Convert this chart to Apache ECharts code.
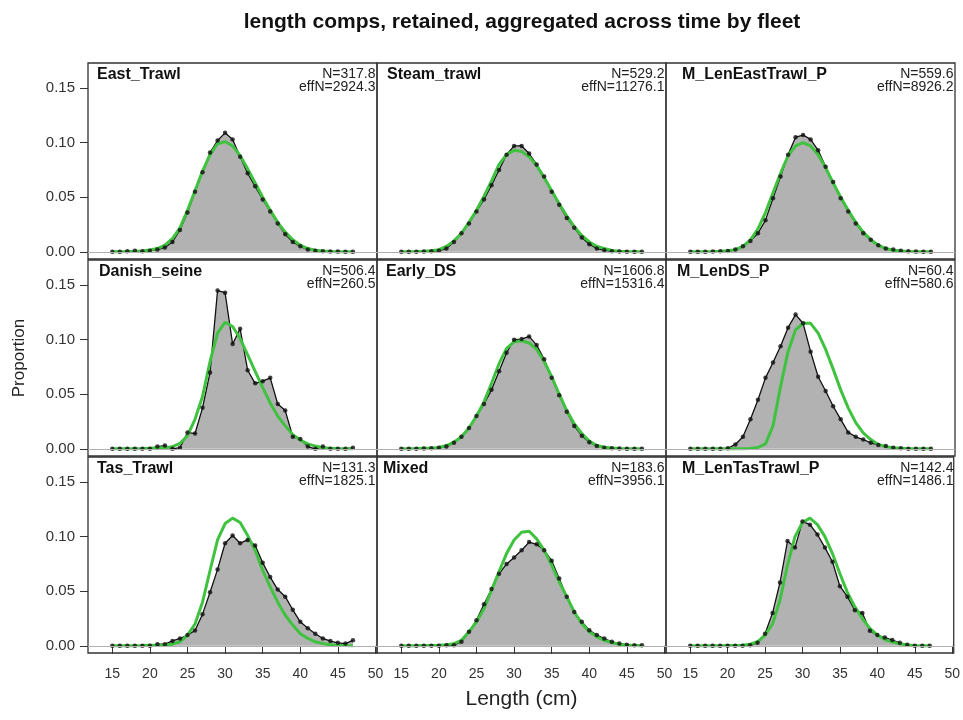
<!DOCTYPE html>
<html>
<head>
<meta charset="utf-8">
<script src="https://cdn.jsdelivr.net/npm/echarts@6/dist/echarts.min.js"></script>
<style>
  html, body { margin: 0; padding: 0; background: #fff; }
  #chart { width: 963px; height: 720px; }
</style>
</head>
<body>
<div id="chart"></div>
<script>
// Length bins (cm)
const lengthBins = [15, 16, 17, 18, 19, 20, 21, 22, 23, 24, 25, 26, 27, 28, 29, 30, 31,
  32, 33, 34, 35, 36, 37, 38, 39, 40, 41, 42, 43, 44, 45, 46, 47];

const xTickValues = [15, 20, 25, 30, 35, 40, 45, 50];
const yTickValues = [0, 0.05, 0.10, 0.15];

const fleetNames = ['East_Trawl', 'Steam_trawl', 'M_LenEastTrawl_P',
  'Danish_seine', 'Early_DS', 'M_LenDS_P',
  'Tas_Trawl', 'Mixed', 'M_LenTasTrawl_P'];
const sampleN = ['317.8', '529.2', '559.6', '506.4', '1606.8', '60.4', '131.3', '183.6', '142.4'];
const effN = ['2924.3', '11276.1', '8926.2', '260.5', '15316.4', '580.6', '1825.1', '3956.1', '1486.1'];

// Observed proportions at length
const obsEastTrawl = [0, 0, 0.0005, 0.001, 0.0005, 0.001, 0.002, 0.004, 0.009, 0.020, 0.036, 0.055, 0.073,
  0.091, 0.102, 0.109, 0.103, 0.087, 0.072, 0.060, 0.048, 0.037, 0.026, 0.016, 0.009, 0.005, 0.002,
  0.001, 0.0005, 0.0003, 0.0002, 0.0001, 0.0001];
const obsSteamTrawl = [0, 0, 0, 0.0002, 0.0005, 0.001, 0.003, 0.009, 0.017, 0.026, 0.037, 0.048, 0.061,
  0.075, 0.089, 0.097, 0.097, 0.090, 0.080, 0.069, 0.055, 0.043, 0.031, 0.022, 0.013, 0.007, 0.003,
  0.0015, 0.0005, 0.0003, 0.0001, 0, 0];
const obsMLenEastTrawlP = [0, 0, 0, 0.0002, 0.0004, 0.0007, 0.002, 0.005, 0.010, 0.017, 0.029, 0.049, 0.069,
  0.089, 0.105, 0.107, 0.103, 0.093, 0.078, 0.064, 0.049, 0.037, 0.026, 0.017, 0.011, 0.006, 0.003,
  0.002, 0.001, 0.0005, 0.0002, 0.0001, 0];
const obsDanishSeine = [0, 0, 0, 0, 0, 0, 0.002, 0.003, 0, 0.001, 0.015, 0.014, 0.0375,
  0.070, 0.145, 0.143, 0.096, 0.110, 0.072, 0.060, 0.062, 0.065, 0.041, 0.035, 0.011, 0.009, 0.002,
  0, 0.002, 0, 0, 0, 0.001];
const obsEarlyDS = [0, 0, 0, 0.0002, 0.0005, 0.001, 0.002, 0.0055, 0.011, 0.019, 0.030, 0.041, 0.054,
  0.071, 0.088, 0.100, 0.1005, 0.103, 0.095, 0.082, 0.065, 0.049, 0.034, 0.021, 0.012, 0.006, 0.0025,
  0.001, 0.0005, 0.0002, 0.0001, 0, 0];
const obsMLenDSP = [0, 0, 0, 0, 0, 0.0005, 0.004, 0.011, 0.027, 0.045, 0.065, 0.079, 0.094,
  0.111, 0.123, 0.115, 0.089, 0.066, 0.053, 0.039, 0.027, 0.015, 0.011, 0.0085, 0.0055, 0.0035, 0.0025,
  0.001, 0.0005, 0, 0, 0, 0];
const obsTasTrawl = [0, 0, 0, 0, 0, 0, 0.0015, 0.0015, 0.0045, 0.0067, 0.0098, 0.014, 0.029,
  0.049, 0.070, 0.094, 0.101, 0.094, 0.097, 0.092, 0.076, 0.063, 0.0515, 0.045, 0.033, 0.022, 0.016,
  0.011, 0.0067, 0.0043, 0.0027, 0.002, 0.005];
const obsMixed = [0, 0, 0, 0, 0, 0, 0.0005, 0.0006, 0.0037, 0.0128, 0.0235, 0.038, 0.052,
  0.066, 0.075, 0.081, 0.0875, 0.095, 0.093, 0.0875, 0.078, 0.0616, 0.045, 0.031, 0.022, 0.0143, 0.0098,
  0.0067, 0.0037, 0.002, 0.001, 0.0005, 0.0005];
const obsMLenTasTrawlP = [0, 0, 0, 0, 0, 0, 0, 0, 0.0005, 0.0027, 0.011, 0.030, 0.058,
  0.096, 0.090, 0.114, 0.111, 0.102, 0.090, 0.077, 0.0546, 0.045, 0.0326, 0.030, 0.0137, 0.0098, 0.0076,
  0.0052, 0.0027, 0.001, 0, 0, 0];

// Expected proportions at length
const expEastTrawl = [0, 0.0001, 0.0002, 0.0004, 0.0008, 0.0016, 0.003, 0.006, 0.012, 0.022, 0.038, 0.056, 0.074,
  0.089, 0.099, 0.101, 0.097, 0.088, 0.076, 0.063, 0.050, 0.038, 0.027, 0.018, 0.011, 0.006, 0.003,
  0.0015, 0.0007, 0.0003, 0.0001, 0.0001, 0];
const expSteamTrawl = [0, 0.0001, 0.0002, 0.0005, 0.001, 0.002, 0.005, 0.010, 0.017, 0.027, 0.038, 0.051, 0.065,
  0.080, 0.089, 0.093, 0.092, 0.087, 0.079, 0.068, 0.056, 0.044, 0.033, 0.023, 0.015, 0.009, 0.005,
  0.003, 0.0013, 0.0006, 0.0003, 0.0001, 0];
const expMLenEastTrawlP = [0, 0, 0.0001, 0.0002, 0.0005, 0.001, 0.002, 0.005, 0.011, 0.021, 0.036, 0.054, 0.072,
  0.088, 0.097, 0.100, 0.097, 0.089, 0.077, 0.063, 0.050, 0.038, 0.027, 0.018, 0.011, 0.006, 0.003,
  0.0015, 0.0007, 0.0003, 0.0001, 0.0001, 0];
const expDanishSeine = [0, 0, 0, 0.0001, 0.0002, 0.0005, 0.001, 0.001, 0.002, 0.005, 0.012, 0.027, 0.048,
  0.080, 0.106, 0.116, 0.112, 0.101, 0.086, 0.071, 0.056, 0.042, 0.030, 0.021, 0.013, 0.008, 0.0045,
  0.0025, 0.001, 0.0005, 0.0002, 0.0001, 0];
const expEarlyDS = [0, 0.0001, 0.0002, 0.0004, 0.0006, 0.0012, 0.003, 0.006, 0.011, 0.019, 0.030, 0.043, 0.060,
  0.078, 0.092, 0.098, 0.099, 0.097, 0.091, 0.080, 0.066, 0.050, 0.035, 0.023, 0.014, 0.007, 0.003,
  0.0015, 0.0007, 0.0003, 0.0001, 0, 0];
const expMLenDSP = [0, 0, 0, 0, 0, 0, 0, 0, 0.0003, 0.0012, 0.0045, 0.021, 0.057,
  0.089, 0.109, 0.115, 0.115, 0.106, 0.091, 0.073, 0.054, 0.0375, 0.024, 0.0146, 0.0085, 0.004, 0.002,
  0.001, 0.0005, 0.0002, 0, 0, 0];
const expTasTrawl = [0, 0, 0, 0.0001, 0.0002, 0.0004, 0.0005, 0.0008, 0.0015, 0.0037, 0.0098, 0.020, 0.040,
  0.069, 0.097, 0.112, 0.117, 0.113, 0.101, 0.0875, 0.069, 0.054, 0.040, 0.028, 0.019, 0.011, 0.0067,
  0.0037, 0.002, 0.001, 0.0005, 0.0002, 0.0001];
const expMixed = [0, 0, 0.0001, 0.0002, 0.0003, 0.0005, 0.001, 0.002, 0.005, 0.0128, 0.022, 0.034, 0.051,
  0.068, 0.0845, 0.097, 0.104, 0.105, 0.098, 0.0875, 0.074, 0.0585, 0.045, 0.031, 0.0204, 0.0128, 0.0082,
  0.005, 0.003, 0.0015, 0.0007, 0.0003, 0.0001];
const expMLenTasTrawlP = [0, 0, 0, 0, 0.0001, 0.0002, 0.0003, 0.0006, 0.0015, 0.0037, 0.0098, 0.020, 0.042,
  0.074, 0.100, 0.113, 0.117, 0.111, 0.100, 0.0845, 0.066, 0.049, 0.0357, 0.025, 0.016, 0.0098, 0.0058,
  0.0034, 0.0018, 0.0008, 0.0003, 0.0001, 0];

const observed = [obsEastTrawl, obsSteamTrawl, obsMLenEastTrawlP, obsDanishSeine, obsEarlyDS,
  obsMLenDSP, obsTasTrawl, obsMixed, obsMLenTasTrawlP];
const expected = [expEastTrawl, expSteamTrawl, expMLenEastTrawlP, expDanishSeine, expEarlyDS,
  expMLenDSP, expTasTrawl, expMixed, expMLenTasTrawlP];

// Panel layout
const FONT = '"Liberation Sans", Arial, Helvetica, sans-serif';
const panelLeft = [88, 377, 666];
const panelTop = [63, 260, 457];
const panelW = 289;
const panelH = 196;
const nameOffsets = [9, 10, 16, 11, 9, 11, 9, 6, 16];

const grids = [], xAxes = [], yAxes = [], series = [], graphics = [];

const pairs = (vals) => lengthBins.map((b, k) => [b, vals[k]]);

for (let i = 0; i < 9; i++) {
  const r = Math.floor(i / 3), c = i % 3;
  const left = panelLeft[c], top = panelTop[r];
  grids.push({
    left: left, top: top, width: panelW, height: panelH,
    show: true, borderColor: '#333', borderWidth: 1.3, backgroundColor: 'transparent'
  });
  const xa = {
    type: 'value', gridIndex: i, min: 11.77, max: 50.2,
    axisLine: { show: false },
    splitLine: { show: false },
    axisTick: { show: r === 2, inside: false, length: 8, customValues: xTickValues,
      lineStyle: { color: '#333', width: 1 } },
    axisLabel: { show: r === 2, customValues: xTickValues, margin: 14,
      fontSize: 14, fontFamily: FONT, color: '#333' }
  };
  if (i === 7) {
    xa.name = 'Length (cm)';
    xa.nameLocation = 'middle';
    xa.nameGap = 36;
    xa.nameTextStyle = { fontSize: 21, fontFamily: FONT, color: '#222' };
  }
  xAxes.push(xa);
  const ya = {
    type: 'value', gridIndex: i, min: -0.0066, max: 0.173,
    axisLine: { show: false },
    splitLine: { show: false },
    axisTick: { show: c === 0, inside: false, length: 8, customValues: yTickValues,
      lineStyle: { color: '#333', width: 1 } },
    axisLabel: { show: c === 0, customValues: yTickValues, margin: 13,
      fontSize: 15, fontFamily: FONT, color: '#333',
      formatter: (v) => v.toFixed(2) }
  };
  if (i === 3) {
    ya.name = 'Proportion';
    ya.nameLocation = 'middle';
    ya.nameGap = 60;
    ya.nameTextStyle = { fontSize: 17, fontFamily: FONT, color: '#222' };
  }
  yAxes.push(ya);

  // observed: grey polygon with black outline, plus zero reference line
  series.push({
    type: 'line', xAxisIndex: i, yAxisIndex: i, data: pairs(observed[i]),
    showSymbol: false, symbol: 'none', z: 2,
    lineStyle: { color: '#111', width: 1.3 },
    areaStyle: { color: '#b2b2b2', opacity: 1, origin: 'auto' },
    markLine: {
      silent: true, symbol: 'none', animation: false,
      label: { show: false },
      lineStyle: { color: '#b0b0b0', width: 1, type: 'solid' },
      data: [{ yAxis: 0 }]
    }
  });
  // expected fit
  series.push({
    type: 'line', xAxisIndex: i, yAxisIndex: i, data: pairs(expected[i]),
    symbol: 'none', z: 3,
    lineStyle: { color: '#3fc23f', width: 3 }
  });
  // observed points
  series.push({
    type: 'scatter', xAxisIndex: i, yAxisIndex: i, data: pairs(observed[i]),
    symbol: 'circle', symbolSize: 4.5, z: 4,
    itemStyle: { color: '#111' }
  });

  graphics.push({
    type: 'text', x: left + nameOffsets[i], y: top + 12, z: 10,
    style: { text: fleetNames[i], fontSize: 16, fontWeight: 'bold', fontFamily: FONT,
      fill: '#111', align: 'left', verticalAlign: 'middle' }
  });
  graphics.push({
    type: 'text', x: left + panelW - 1.5, y: top + 11, z: 10,
    style: { text: 'N=' + sampleN[i], fontSize: 14, fontFamily: FONT,
      fill: '#222', align: 'right', verticalAlign: 'middle' }
  });
  graphics.push({
    type: 'text', x: left + panelW - 1.5, y: top + 24.5, z: 10,
    style: { text: 'effN=' + effN[i], fontSize: 14, fontFamily: FONT,
      fill: '#222', align: 'right', verticalAlign: 'middle' }
  });
}

graphics.push({
  type: 'text', x: 522, y: 22, z: 10,
  style: { text: 'length comps, retained, aggregated across time by fleet',
    fontSize: 21, fontWeight: 'bold', fontFamily: FONT, fill: '#111',
    align: 'center', verticalAlign: 'middle' }
});

const chart = echarts.init(document.getElementById('chart'), null, { renderer: 'canvas' });
chart.setOption({
  animation: false,
  backgroundColor: '#fff',
  grid: grids,
  xAxis: xAxes,
  yAxis: yAxes,
  series: series,
  graphic: graphics
});
</script>
</body>
</html>
